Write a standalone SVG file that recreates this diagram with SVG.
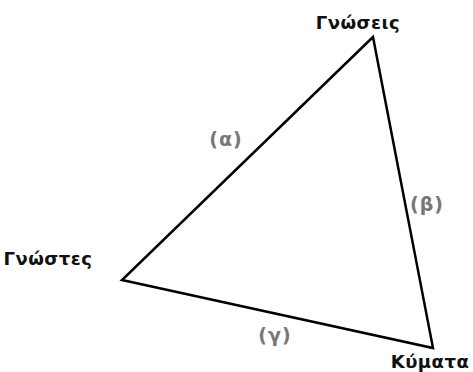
<svg xmlns="http://www.w3.org/2000/svg" width="473" height="372" viewBox="0 0 473 372">
<style>
.node{font-family:"DejaVu Sans",sans-serif;font-weight:bold;font-size:18px;fill:#111;letter-spacing:0.5px;}
.lab{font-family:"DejaVu Sans",sans-serif;font-weight:bold;font-size:19px;fill:#777;letter-spacing:1px;}
.edge{stroke:#000;stroke-width:2.5;fill:none;stroke-linejoin:miter;}
</style>
<rect width="473" height="372" fill="#fff"/>
<g id="connectors">
<polygon class="edge" points="373,37 122,280 433,348"/>
</g>
<g id="n-gnoseis"><text class="node" x="358" y="29" text-anchor="middle">Γνώσεις</text></g>
<g id="n-gnostes"><text class="node" x="48" y="265" text-anchor="middle">Γνώστες</text></g>
<g id="n-kymata"><text class="node" x="430" y="368" text-anchor="middle">Κύματα</text></g>
<g id="l-a"><text class="lab" x="226" y="146" text-anchor="middle">(α)</text></g>
<g id="l-b"><text class="lab" x="427" y="211" text-anchor="middle">(β)</text></g>
<g id="l-g"><text class="lab" x="275" y="342" text-anchor="middle">(γ)</text></g>
</svg>
